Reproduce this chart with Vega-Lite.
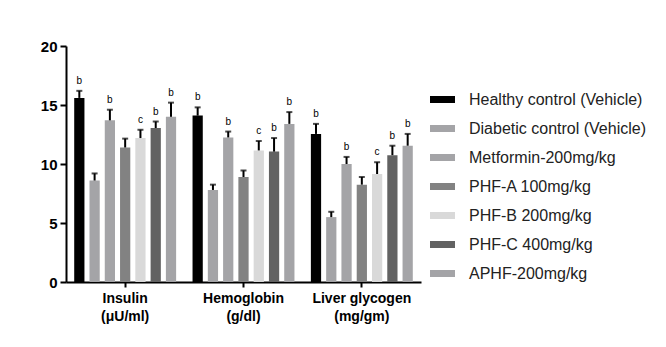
{
  "$schema": "https://vega.github.io/schema/vega-lite/v6.json",
  "width": 355,
  "height": 236,
  "autosize": {"type": "none"},
  "padding": {"left": 66, "top": 46, "right": 245, "bottom": 65},
  "background": "white",
  "config": {"view": {"stroke": null}, "font": "Liberation Sans"},
  "data": {
    "values": [
      {"measure": "Insulin (μU/ml)", "group": "Healthy control (Vehicle)", "mean": 15.6, "upper": 16.2, "sig": "b"},
      {"measure": "Insulin (μU/ml)", "group": "Diabetic control (Vehicle)", "mean": 8.6, "upper": 9.2, "sig": ""},
      {"measure": "Insulin (μU/ml)", "group": "Metformin-200mg/kg", "mean": 13.7, "upper": 14.6, "sig": "b"},
      {"measure": "Insulin (μU/ml)", "group": "PHF-A 100mg/kg", "mean": 11.4, "upper": 12.15, "sig": ""},
      {"measure": "Insulin (μU/ml)", "group": "PHF-B 200mg/kg", "mean": 12.2, "upper": 12.9, "sig": "c"},
      {"measure": "Insulin (μU/ml)", "group": "PHF-C 400mg/kg", "mean": 13.05, "upper": 13.6, "sig": "b"},
      {"measure": "Insulin (μU/ml)", "group": "APHF-200mg/kg", "mean": 14.0, "upper": 15.2, "sig": "b"},
      {"measure": "Hemoglobin (g/dl)", "group": "Healthy control (Vehicle)", "mean": 14.1, "upper": 14.8, "sig": "b"},
      {"measure": "Hemoglobin (g/dl)", "group": "Diabetic control (Vehicle)", "mean": 7.8, "upper": 8.25, "sig": ""},
      {"measure": "Hemoglobin (g/dl)", "group": "Metformin-200mg/kg", "mean": 12.25, "upper": 12.75, "sig": "b"},
      {"measure": "Hemoglobin (g/dl)", "group": "PHF-A 100mg/kg", "mean": 8.9, "upper": 9.45, "sig": ""},
      {"measure": "Hemoglobin (g/dl)", "group": "PHF-B 200mg/kg", "mean": 11.15, "upper": 11.95, "sig": "c"},
      {"measure": "Hemoglobin (g/dl)", "group": "PHF-C 400mg/kg", "mean": 11.05, "upper": 12.2, "sig": "b"},
      {"measure": "Hemoglobin (g/dl)", "group": "APHF-200mg/kg", "mean": 13.4, "upper": 14.4, "sig": "b"},
      {"measure": "Liver glycogen (mg/gm)", "group": "Healthy control (Vehicle)", "mean": 12.55, "upper": 13.4, "sig": "b"},
      {"measure": "Liver glycogen (mg/gm)", "group": "Diabetic control (Vehicle)", "mean": 5.5, "upper": 5.95, "sig": ""},
      {"measure": "Liver glycogen (mg/gm)", "group": "Metformin-200mg/kg", "mean": 10.0, "upper": 10.6, "sig": "b"},
      {"measure": "Liver glycogen (mg/gm)", "group": "PHF-A 100mg/kg", "mean": 8.25, "upper": 8.9, "sig": ""},
      {"measure": "Liver glycogen (mg/gm)", "group": "PHF-B 200mg/kg", "mean": 9.15, "upper": 10.15, "sig": "c"},
      {"measure": "Liver glycogen (mg/gm)", "group": "PHF-C 400mg/kg", "mean": 10.75, "upper": 11.55, "sig": "b"},
      {"measure": "Liver glycogen (mg/gm)", "group": "APHF-200mg/kg", "mean": 11.55, "upper": 12.55, "sig": "b"}
    ]
  },
  "encoding": {
    "x": {
      "field": "measure",
      "type": "nominal",
      "sort": ["Insulin (μU/ml)", "Hemoglobin (g/dl)", "Liver glycogen (mg/gm)"],
      "scale": {"paddingInner": 0.1, "paddingOuter": 0.05},
      "axis": {
        "title": null,
        "labelAngle": 0,
        "labelExpr": "[trim(substring(datum.label, 0, indexof(datum.label, '('))), substring(datum.label, indexof(datum.label, '('))]",
        "labelFontSize": 14,
        "labelFontWeight": "bold",
        "labelColor": "black",
        "labelLineHeight": 18,
        "labelPadding": 4,
        "domainColor": "black",
        "domainWidth": 2,
        "tickColor": "black",
        "tickWidth": 2,
        "tickSize": 5
      }
    },
    "xOffset": {
      "field": "group",
      "type": "nominal",
      "sort": ["Healthy control (Vehicle)", "Diabetic control (Vehicle)", "Metformin-200mg/kg", "PHF-A 100mg/kg", "PHF-B 200mg/kg", "PHF-C 400mg/kg", "APHF-200mg/kg"],
      "scale": {"paddingInner": 0.33, "paddingOuter": 0.15}
    }
  },
  "layer": [
    {
      "mark": {"type": "bar"},
      "encoding": {
        "y": {
          "field": "mean",
          "type": "quantitative",
          "scale": {"domain": [0, 20]},
          "axis": {
            "title": null,
            "values": [0, 5, 10, 15, 20],
            "grid": false,
            "domainColor": "black",
            "domainWidth": 2,
            "tickColor": "black",
            "tickWidth": 2,
            "tickSize": 6,
            "labelFontSize": 15,
            "labelFontWeight": "bold",
            "labelColor": "black",
            "labelPadding": 3
          }
        },
        "color": {
          "field": "group",
          "type": "nominal",
          "scale": {
            "domain": ["Healthy control (Vehicle)", "Diabetic control (Vehicle)", "Metformin-200mg/kg", "PHF-A 100mg/kg", "PHF-B 200mg/kg", "PHF-C 400mg/kg", "APHF-200mg/kg"],
            "range": ["#000000", "#a4a4a7", "#a4a4a7", "#828282", "#d9d9d9", "#626262", "#a4a4a7"]
          },
          "legend": {
            "title": null,
            "orient": "none",
            "legendX": 364,
            "legendY": 41,
            "padding": 0,
            "symbolType": "M-1,-0.28H1V0.28H-1Z",
            "symbolSize": 625,
            "symbolStrokeWidth": 0,
            "rowPadding": 8,
            "labelOffset": 14,
            "labelFontSize": 16,
            "labelColor": "#222222",
            "labelLimit": 300
          }
        }
      }
    },
    {
      "mark": {"type": "rule", "strokeWidth": 2, "color": "black"},
      "encoding": {
        "y": {"field": "mean", "type": "quantitative"},
        "y2": {"field": "upper"}
      }
    },
    {
      "mark": {"type": "tick", "thickness": 2, "size": 6, "color": "black"},
      "encoding": {
        "y": {"field": "upper", "type": "quantitative"}
      }
    },
    {
      "mark": {"type": "text", "dy": -5, "baseline": "bottom", "fontSize": 10, "color": "black"},
      "encoding": {
        "y": {"field": "upper", "type": "quantitative"},
        "text": {"field": "sig"}
      }
    }
  ]
}
